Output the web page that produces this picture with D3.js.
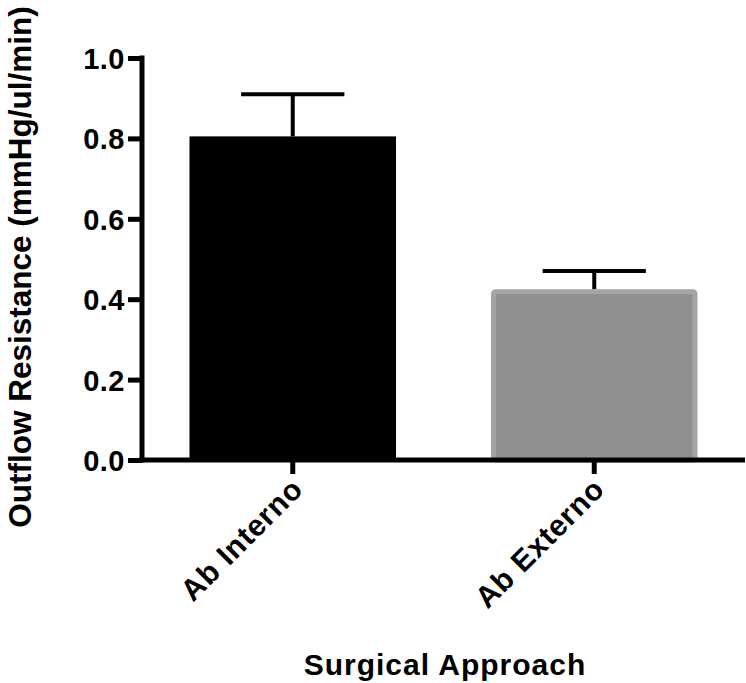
<!DOCTYPE html>
<html>
<head>
<meta charset="utf-8">
<script src="https://cdn.jsdelivr.net/npm/d3@7"></script>
<style>
  body { margin: 0; background: #fff; }
  text { font-family: "Liberation Sans", Arial, sans-serif; font-weight: bold; fill: #000; }
</style>
</head>
<body>
<div id="chart"></div>
<script>
// data
const groups = ["Ab Interno", "Ab Externo"];
const means = [0.805, 0.425];
const sems = [0.105, 0.045];
const yTicks = [0, 0.2, 0.4, 0.6, 0.8, 1.0];

const width = 746;
const height = 683;
const margin = { top: 58, right: 1, bottom: 223, left: 142 };

const svg = d3.select("#chart")
  .append("svg")
  .attr("width", width)
  .attr("height", height);

const x = d3.scaleBand()
  .domain(groups)
  .range([margin.left, width - margin.right])
  .padding(0);

const y = d3.scaleLinear()
  .domain([0, 1])
  .range([height - margin.bottom, margin.top]);

const barW = x.bandwidth() * 0.685;
const capW = barW * 0.5;

// bars
svg.selectAll("rect.bar")
  .data(groups)
  .enter()
  .append("rect")
  .attr("class", "bar")
  .attr("x", (d, i) => x(d) + x.bandwidth() / 2 - barW / 2 + (i == 1 ? 2.5 : 0))
  .attr("width", (d, i) => i == 1 ? barW - 5 : barW)
  .attr("y", (d, i) => y(means[i]) + (i == 1 ? 2.5 : 0))
  .attr("height", (d, i) => y(0) - y(means[i]) - (i == 1 ? 2.5 : 0))
  .attr("fill", (d, i) => i == 0 ? "#000" : "#8f8f8f")
  .attr("stroke", (d, i) => i == 0 ? "none" : "#a4a4a4")
  .attr("stroke-width", 5)
  .attr("rx", (d, i) => i == 0 ? 0 : 2);

// error bars (upper only)
const err = svg.selectAll("g.err")
  .data(groups)
  .enter()
  .append("g")
  .attr("class", "err");

err.append("line")
  .attr("x1", d => x(d) + x.bandwidth() / 2)
  .attr("x2", d => x(d) + x.bandwidth() / 2)
  .attr("y1", (d, i) => y(means[i]))
  .attr("y2", (d, i) => y(means[i] + sems[i]))
  .attr("stroke", "#000")
  .attr("stroke-width", 4);

err.append("line")
  .attr("x1", d => x(d) + x.bandwidth() / 2 - capW / 2)
  .attr("x2", d => x(d) + x.bandwidth() / 2 + capW / 2)
  .attr("y1", (d, i) => y(means[i] + sems[i]))
  .attr("y2", (d, i) => y(means[i] + sems[i]))
  .attr("stroke", "#000")
  .attr("stroke-width", 4);

// axes
const yAxis = d3.axisLeft(y)
  .tickValues(yTicks)
  .tickFormat(d3.format(".1f"))
  .tickSize(14)
  .tickSizeOuter(0)
  .tickPadding(3);

const gy = svg.append("g")
  .attr("transform", "translate(" + margin.left + ",0)")
  .call(yAxis);
gy.select(".domain").attr("stroke-width", 5).attr("d", "M0," + (y(0) + 2.5) + "V" + (y(1) - 2.5));
gy.selectAll(".tick line").attr("stroke-width", 5);
gy.selectAll(".tick text").style("font-size", "29px").style("letter-spacing", "0.5px").attr("dy", "0.36em");

const xAxis = d3.axisBottom(x)
  .tickSize(14)
  .tickSizeOuter(0);

const gx = svg.append("g")
  .attr("transform", "translate(0," + y(0) + ")")
  .call(xAxis);
gx.select(".domain").attr("stroke-width", 5).attr("d", "M" + (margin.left - 2.5) + ",0H" + (width - margin.right));
gx.selectAll(".tick line").attr("stroke-width", 5);
gx.selectAll(".tick text")
  .style("font-size", "30px")
  .style("letter-spacing", "0.8px")
  .attr("text-anchor", "end")
  .attr("dy", null)
  .attr("y", 0)
  .attr("transform", "translate(12,31) rotate(-45)");

// axis titles
svg.append("text")
  .attr("transform", "translate(31," + 267 + ") rotate(-90)")
  .attr("text-anchor", "middle")
  .style("font-size", "31.5px")
  .text("Outflow Resistance (mmHg/ul/min)");

svg.append("text")
  .attr("x", 445)
  .attr("y", 675)
  .attr("text-anchor", "middle")
  .style("font-size", "30px")
  .style("letter-spacing", "1px")
  .text("Surgical Approach");
</script>
</body>
</html>
